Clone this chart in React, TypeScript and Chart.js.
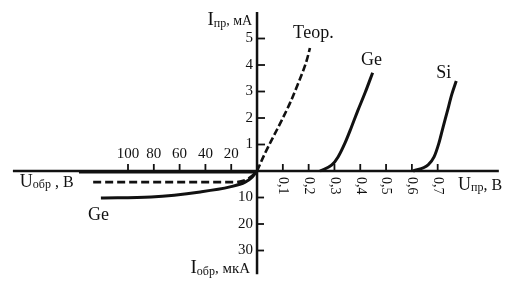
import { useEffect, useRef } from "react";
import { Chart, registerables } from "chart.js";

Chart.register(...registerables);

// ---- Data ----
// Forward branch: U in volts, I in mA
const teorFwdU = [0, 0.031, 0.063, 0.096, 0.128, 0.16, 0.193, 0.205];
const teorFwdI = [0, 0.67, 1.29, 1.92, 2.57, 3.32, 4.19, 4.64];
const geFwdU = [0.244, 0.29, 0.314, 0.341, 0.366, 0.389, 0.419, 0.448];
const geFwdI = [0.0, 0.23, 0.53, 1.06, 1.66, 2.24, 2.96, 3.71];
const siFwdU = [0.605, 0.663, 0.686, 0.705, 0.721, 0.736, 0.755, 0.772];
const siFwdI = [0.0, 0.23, 0.53, 1.06, 1.66, 2.2, 2.9, 3.4];
// Reverse branch: U in volts (reverse), I in µA (reverse)
const teorRevU = [127, 100, 60, 18, 9, 4, 0];
const teorRevI = [4.2, 4.2, 4.2, 4.2, 3.4, 1.9, 0];
const geRevU = [121, 82, 44, 21, 9.2, 3.8, 0];
const geRevI = [10.2, 9.8, 7.9, 6.0, 4.2, 2.3, 0];
const siRevU = [138, 0];
const siRevI = [0.4, 0.4];

// Tick values and labels
const fwdUTicks = [0.1, 0.2, 0.3, 0.4, 0.5, 0.6, 0.7];
const fwdULabels = ["0,1", "0,2", "0,3", "0,4", "0,5", "0,6", "0,7"];
const revUTicks = [20, 40, 60, 80, 100];
const revULabels = ["20", "40", "60", "80", "100"];
const fwdITicks = [1, 2, 3, 4, 5];
const fwdILabels = ["1", "2", "3", "4", "5"];
const revITicks = [10, 20, 30];
const revILabels = ["10", "20", "30"];

// mapping of reverse quantities onto the common display scale
const REV_U_FACTOR = 0.005; // display units per reverse volt
const REV_I_FACTOR = 0.1; // display units per reverse µA

const FONT = '"Liberation Serif", "Times New Roman", serif';

const fwd = (u: number[], i: number[]) => u.map((v, k) => ({ x: v, y: i[k] }));
const rev = (u: number[], i: number[]) =>
  u.map((v, k) => ({ x: -v * REV_U_FACTOR, y: -i[k] * REV_I_FACTOR }));

type Part = { t: string; size: number; dy?: number };

function drawRich(
  ctx: CanvasRenderingContext2D,
  parts: Part[],
  x: number,
  y: number,
  align: "left" | "right"
) {
  let total = 0;
  const widths = parts.map((p) => {
    ctx.font = `${p.size}px ${FONT}`;
    const w = ctx.measureText(p.t).width;
    total += w;
    return w;
  });
  let cx = align === "right" ? x - total : x;
  ctx.textAlign = "left";
  ctx.textBaseline = "alphabetic";
  parts.forEach((p, k) => {
    ctx.font = `${p.size}px ${FONT}`;
    ctx.fillText(p.t, cx, y + (p.dy || 0));
    cx += widths[k];
  });
}

const axesPlugin = {
  id: "diodeAxes",
  beforeDatasetsDraw(chart: any) {
    const ctx: CanvasRenderingContext2D = chart.ctx;
    const xs = chart.scales.x;
    const ys = chart.scales.y;
    const X = (v: number) => xs.getPixelForValue(v);
    const Y = (v: number) => ys.getPixelForValue(v);
    const x0 = X(0);
    const y0 = Y(0);
    ctx.save();
    ctx.strokeStyle = "#111";
    ctx.fillStyle = "#111";
    ctx.lineCap = "butt";
    // horizontal axis
    ctx.lineWidth = 2.5;
    ctx.beginPath();
    ctx.moveTo(X(-0.946), y0);
    ctx.lineTo(X(0.937), y0);
    ctx.stroke();
    // vertical axis
    ctx.beginPath();
    ctx.moveTo(x0, Y(6.0));
    ctx.lineTo(x0, Y(-3.9));
    ctx.stroke();

    ctx.lineWidth = 1.8;
    // forward U ticks (upward) + rotated labels
    fwdUTicks.forEach((v, k) => {
      const px = X(v);
      ctx.beginPath();
      ctx.moveTo(px, y0);
      ctx.lineTo(px, y0 - 7);
      ctx.stroke();
      ctx.save();
      ctx.translate(px, y0 + 6);
      ctx.rotate(Math.PI / 2);
      ctx.font = `14px ${FONT}`;
      ctx.textAlign = "left";
      ctx.textBaseline = "middle";
      ctx.fillText(fwdULabels[k], 0, 0);
      ctx.restore();
    });
    // reverse U ticks (upward) + labels above
    revUTicks.forEach((v, k) => {
      const px = X(-v * REV_U_FACTOR);
      ctx.beginPath();
      ctx.moveTo(px, y0);
      ctx.lineTo(px, y0 - 7);
      ctx.stroke();
      ctx.font = `15px ${FONT}`;
      ctx.textAlign = "center";
      ctx.textBaseline = "alphabetic";
      ctx.fillText(revULabels[k], px, y0 - 13);
    });
    // forward I ticks
    fwdITicks.forEach((v, k) => {
      const py = Y(v);
      ctx.beginPath();
      ctx.moveTo(x0, py);
      ctx.lineTo(x0 + 8, py);
      ctx.stroke();
      ctx.font = `15px ${FONT}`;
      ctx.textAlign = "right";
      ctx.textBaseline = "middle";
      ctx.fillText(fwdILabels[k], x0 - 4, py);
    });
    // reverse I ticks
    revITicks.forEach((v, k) => {
      const py = Y(-v * REV_I_FACTOR);
      ctx.beginPath();
      ctx.moveTo(x0, py);
      ctx.lineTo(x0 + 7, py);
      ctx.stroke();
      ctx.font = `15px ${FONT}`;
      ctx.textAlign = "right";
      ctx.textBaseline = "middle";
      ctx.fillText(revILabels[k], x0 - 4, py);
    });

    // axis titles
    drawRich(ctx, [{ t: "I", size: 19 }, { t: "пр", size: 12, dy: 2 }, { t: ", мА", size: 14 }], X(-0.019), Y(5.51), "right");
    drawRich(ctx, [{ t: "I", size: 19 }, { t: "обр", size: 12, dy: 2 }, { t: ", мкА", size: 15 }], X(-0.027), Y(-3.85), "right");
    drawRich(ctx, [{ t: "U", size: 18 }, { t: "обр", size: 12, dy: 1 }, { t: " , В", size: 16 }], X(-0.919), Y(-0.6), "left");
    drawRich(ctx, [{ t: "U", size: 18 }, { t: "пр", size: 12, dy: 1 }, { t: ", В", size: 16 }], X(0.779), Y(-0.72), "left");

    // curve labels
    ctx.font = `18px ${FONT}`;
    ctx.textAlign = "left";
    ctx.textBaseline = "alphabetic";
    ctx.fillText("Теор.", X(0.1395), Y(5.02));
    ctx.fillText("Ge", X(0.403), Y(4.0));
    ctx.fillText("Si", X(0.694), Y(3.51));
    ctx.fillText("Ge", X(-0.655), Y(-1.85));
    ctx.restore();
  },
};

export default function App() {
  const ref = useRef<HTMLCanvasElement | null>(null);
  useEffect(() => {
    if (!ref.current) return;
    const common = {
      showLine: true,
      pointRadius: 0,
      borderColor: "#111",
      backgroundColor: "#111",
      fill: false,
      cubicInterpolationMode: "monotone" as const,
    };
    const chart = new Chart(ref.current, {
      type: "scatter",
      data: {
        datasets: [
          { ...common, label: "Теор.", data: fwd(teorFwdU, teorFwdI), borderWidth: 2.6, borderDash: [7, 3] },
          { ...common, label: "Теор. обр", data: rev(teorRevU, teorRevI), borderWidth: 2.6, borderDash: [8, 4] },
          { ...common, label: "Ge", data: fwd(geFwdU, geFwdI), borderWidth: 3 },
          { ...common, label: "Ge обр", data: rev(geRevU, geRevI), borderWidth: 3 },
          { ...common, label: "Si", data: fwd(siFwdU, siFwdI), borderWidth: 3 },
          { ...common, label: "Si обр", data: rev(siRevU, siRevI), borderWidth: 3 },
        ] as any,
      },
      options: {
        responsive: false,
        animation: false,
        layout: { padding: 0 },
        plugins: { legend: { display: false }, tooltip: { enabled: false } },
        scales: {
          x: { type: "linear", min: -0.996, max: 0.988, display: false },
          y: { type: "linear", min: -4.83, max: 6.453, display: false },
        },
      },
      plugins: [axesPlugin],
    });
    return () => chart.destroy();
  }, []);
  return (
    <div style={{ position: "fixed", left: 0, top: 0, width: 512, height: 299, background: "#fff" }}>
      <canvas ref={ref} width={512} height={299} style={{ display: "block" }} />
    </div>
  );
}
